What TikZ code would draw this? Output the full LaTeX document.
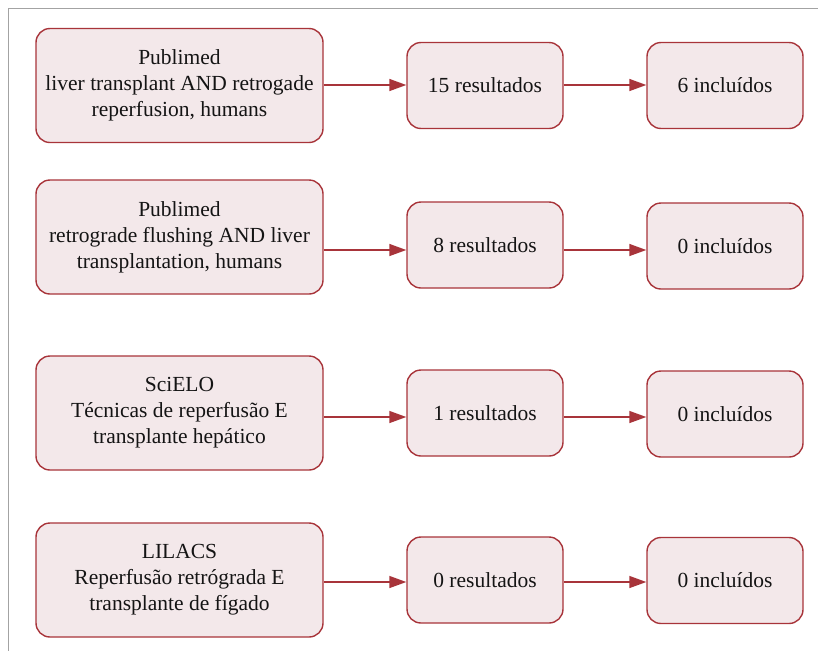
\documentclass[tikz,border=0pt]{standalone}
\usepackage{fontspec}
\setmainfont{Liberation Serif}
\usetikzlibrary{arrows.meta}
\definecolor{boxred}{HTML}{A8343A}
\definecolor{boxfill}{HTML}{F3E8EA}
\definecolor{framegray}{HTML}{A3A3A3}
\definecolor{txt}{HTML}{141414}
\tikzset{
  base/.style={draw=boxred, fill=boxfill, line width=1.4pt, rounded corners=14pt,
    align=center, inner sep=0pt, text=txt,
    font=\fontsize{21.5}{26}\selectfont},
  bigbox/.style={base, minimum width=287pt, minimum height=114pt},
  smallbox/.style={base, minimum width=156pt, minimum height=86pt},
  arr/.style={draw=boxred, line width=1.4pt, -{Triangle[length=17pt,width=12pt]}}
}
\begin{document}
\begin{tikzpicture}[x=1pt,y=-1pt]
\useasboundingbox (0,0) rectangle (818,651);
\draw[framegray, line width=1.5pt] (818,8.5) -- (8.5,8.5) -- (8.5,651);
% row 1
\node[bigbox] (b1) at (179.5,85.5) {Publimed\\liver transplant AND retrogade\\reperfusion, humans};
\node[smallbox] (m1) at (485,85.5) {15 resultados};
\node[smallbox] (r1) at (725,85.5) {6 incluídos};
% row 2
\node[bigbox] (b2) at (179.5,237) {Publimed\\retrograde flushing AND liver\\transplantation, humans};
\node[smallbox] (m2) at (485,245) {8 resultados};
\node[smallbox] (r2) at (725,246) {0 incluídos};
% row 3
\node[bigbox] (b3) at (179.5,413) {SciELO\\Técnicas de reperfusão E\\transplante hepático};
\node[smallbox] (m3) at (485,413) {1 resultados};
\node[smallbox] (r3) at (725,414) {0 incluídos};
% row 4
\node[bigbox] (b4) at (179.5,580) {LILACS\\Reperfusão retrógrada E\\transplante de fígado};
\node[smallbox] (m4) at (485,580) {0 resultados};
\node[smallbox] (r4) at (725,580.5) {0 incluídos};
% arrows
\draw[arr] ([yshift=0.5pt]b1.east) -- ([yshift=0.5pt]m1.west);
\draw[arr] ([yshift=0.5pt]m1.east) -- ([yshift=0.5pt]r1.west);
\draw[arr] ([yshift=-13pt]b2.east) -- ([yshift=-5pt]m2.west);
\draw[arr] ([yshift=-5pt]m2.east) -- ([yshift=-4pt]r2.west);
\draw[arr] ([yshift=-4pt]b3.east) -- ([yshift=-4pt]m3.west);
\draw[arr] ([yshift=-4pt]m3.east) -- ([yshift=-3pt]r3.west);
\draw[arr] ([yshift=-2pt]b4.east) -- ([yshift=-2pt]m4.west);
\draw[arr] ([yshift=-2pt]m4.east) -- ([yshift=-1.5pt]r4.west);
\end{tikzpicture}
\end{document}
